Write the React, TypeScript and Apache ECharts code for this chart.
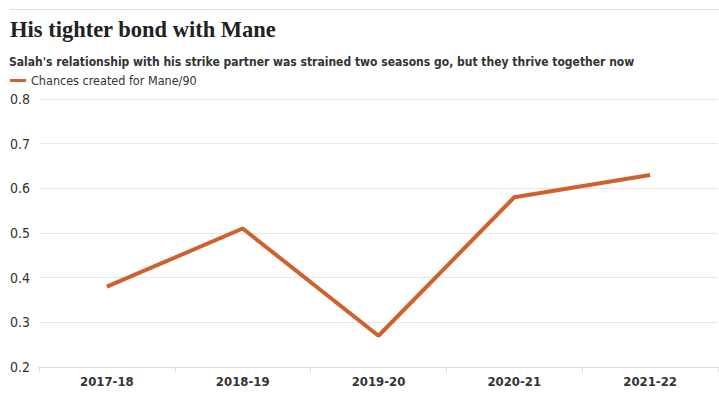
import React, { useEffect, useRef } from "react";
import * as echarts from "echarts";

const categories = ["2017-18", "2018-19", "2019-20", "2020-21", "2021-22"];
const chancesValues = [0.38, 0.51, 0.27, 0.58, 0.63];
const seriesName = "Chances created for Mane/90";
const titleText = "His tighter bond with Mane";
const subtitleText =
  "Salah's relationship with his strike partner was strained two seasons go, but they thrive together now";

const SANS = "'DejaVu Sans Condensed', 'Liberation Sans Narrow', 'Roboto', sans-serif";

export default function App() {
  const ref = useRef<HTMLDivElement>(null);
  useEffect(() => {
    if (!ref.current) return;
    const chart = echarts.init(ref.current, undefined, { renderer: "svg" });
    chart.setOption({
      animation: false,
      backgroundColor: "#ffffff",
      title: [
        {
          text: titleText,
          left: 10,
          top: 18,
          padding: 0,
          textStyle: {
            fontFamily: "Liberation Serif",
            fontSize: 22.5,
            fontWeight: "bold",
            color: "#222222",
          },
        },
        {
          text: subtitleText,
          left: 9,
          top: 56,
          padding: 0,
          textStyle: {
            fontFamily: SANS,
            fontSize: 12,
            fontWeight: "bold",
            color: "#333333",
          },
        },
      ],
      legend: {
        left: 10,
        top: 74,
        itemWidth: 16,
        itemHeight: 3,
        itemGap: 6,
        icon: "rect",
        textStyle: {
          fontFamily: SANS,
          fontSize: 12.5,
          color: "#333333",
        },
        padding: 0,
        data: [seriesName],
      },
      graphic: [
        {
          type: "line",
          shape: { x1: 10, y1: 9.5, x2: 719, y2: 9.5 },
          style: { stroke: "#dddddd", lineWidth: 1 },
        },
      ],
      grid: { left: 39, right: 1, top: 99, bottom: 41, containLabel: false },
      xAxis: {
        type: "category",
        data: categories,
        boundaryGap: true,
        axisLine: { lineStyle: { color: "#dddddd" } },
        axisTick: { show: true, length: 5, lineStyle: { color: "#dddddd" } },
        axisLabel: {
          fontFamily: SANS,
          fontSize: 13,
          fontWeight: "bold",
          color: "#333333",
          margin: 8,
        },
      },
      yAxis: {
        type: "value",
        min: 0.2,
        max: 0.8,
        interval: 0.1,
        axisLine: { show: false },
        axisTick: { show: false },
        splitLine: { lineStyle: { color: "#e8e8e8" } },
        axisLabel: {
          fontFamily: SANS,
          fontSize: 14,
          color: "#333333",
          align: "left",
          margin: 29,
          formatter: (v: number) => v.toFixed(1),
        },
      },
      series: [
        {
          name: seriesName,
          type: "line",
          data: chancesValues,
          symbol: "none",
          lineStyle: { color: "#d0602e", width: 4 },
          itemStyle: { color: "#d0602e" },
        },
      ],
    });
    return () => chart.dispose();
  }, []);
  return (
    <div
      ref={ref}
      style={{ position: "absolute", left: 0, top: 0, width: 719, height: 408 }}
    />
  );
}
